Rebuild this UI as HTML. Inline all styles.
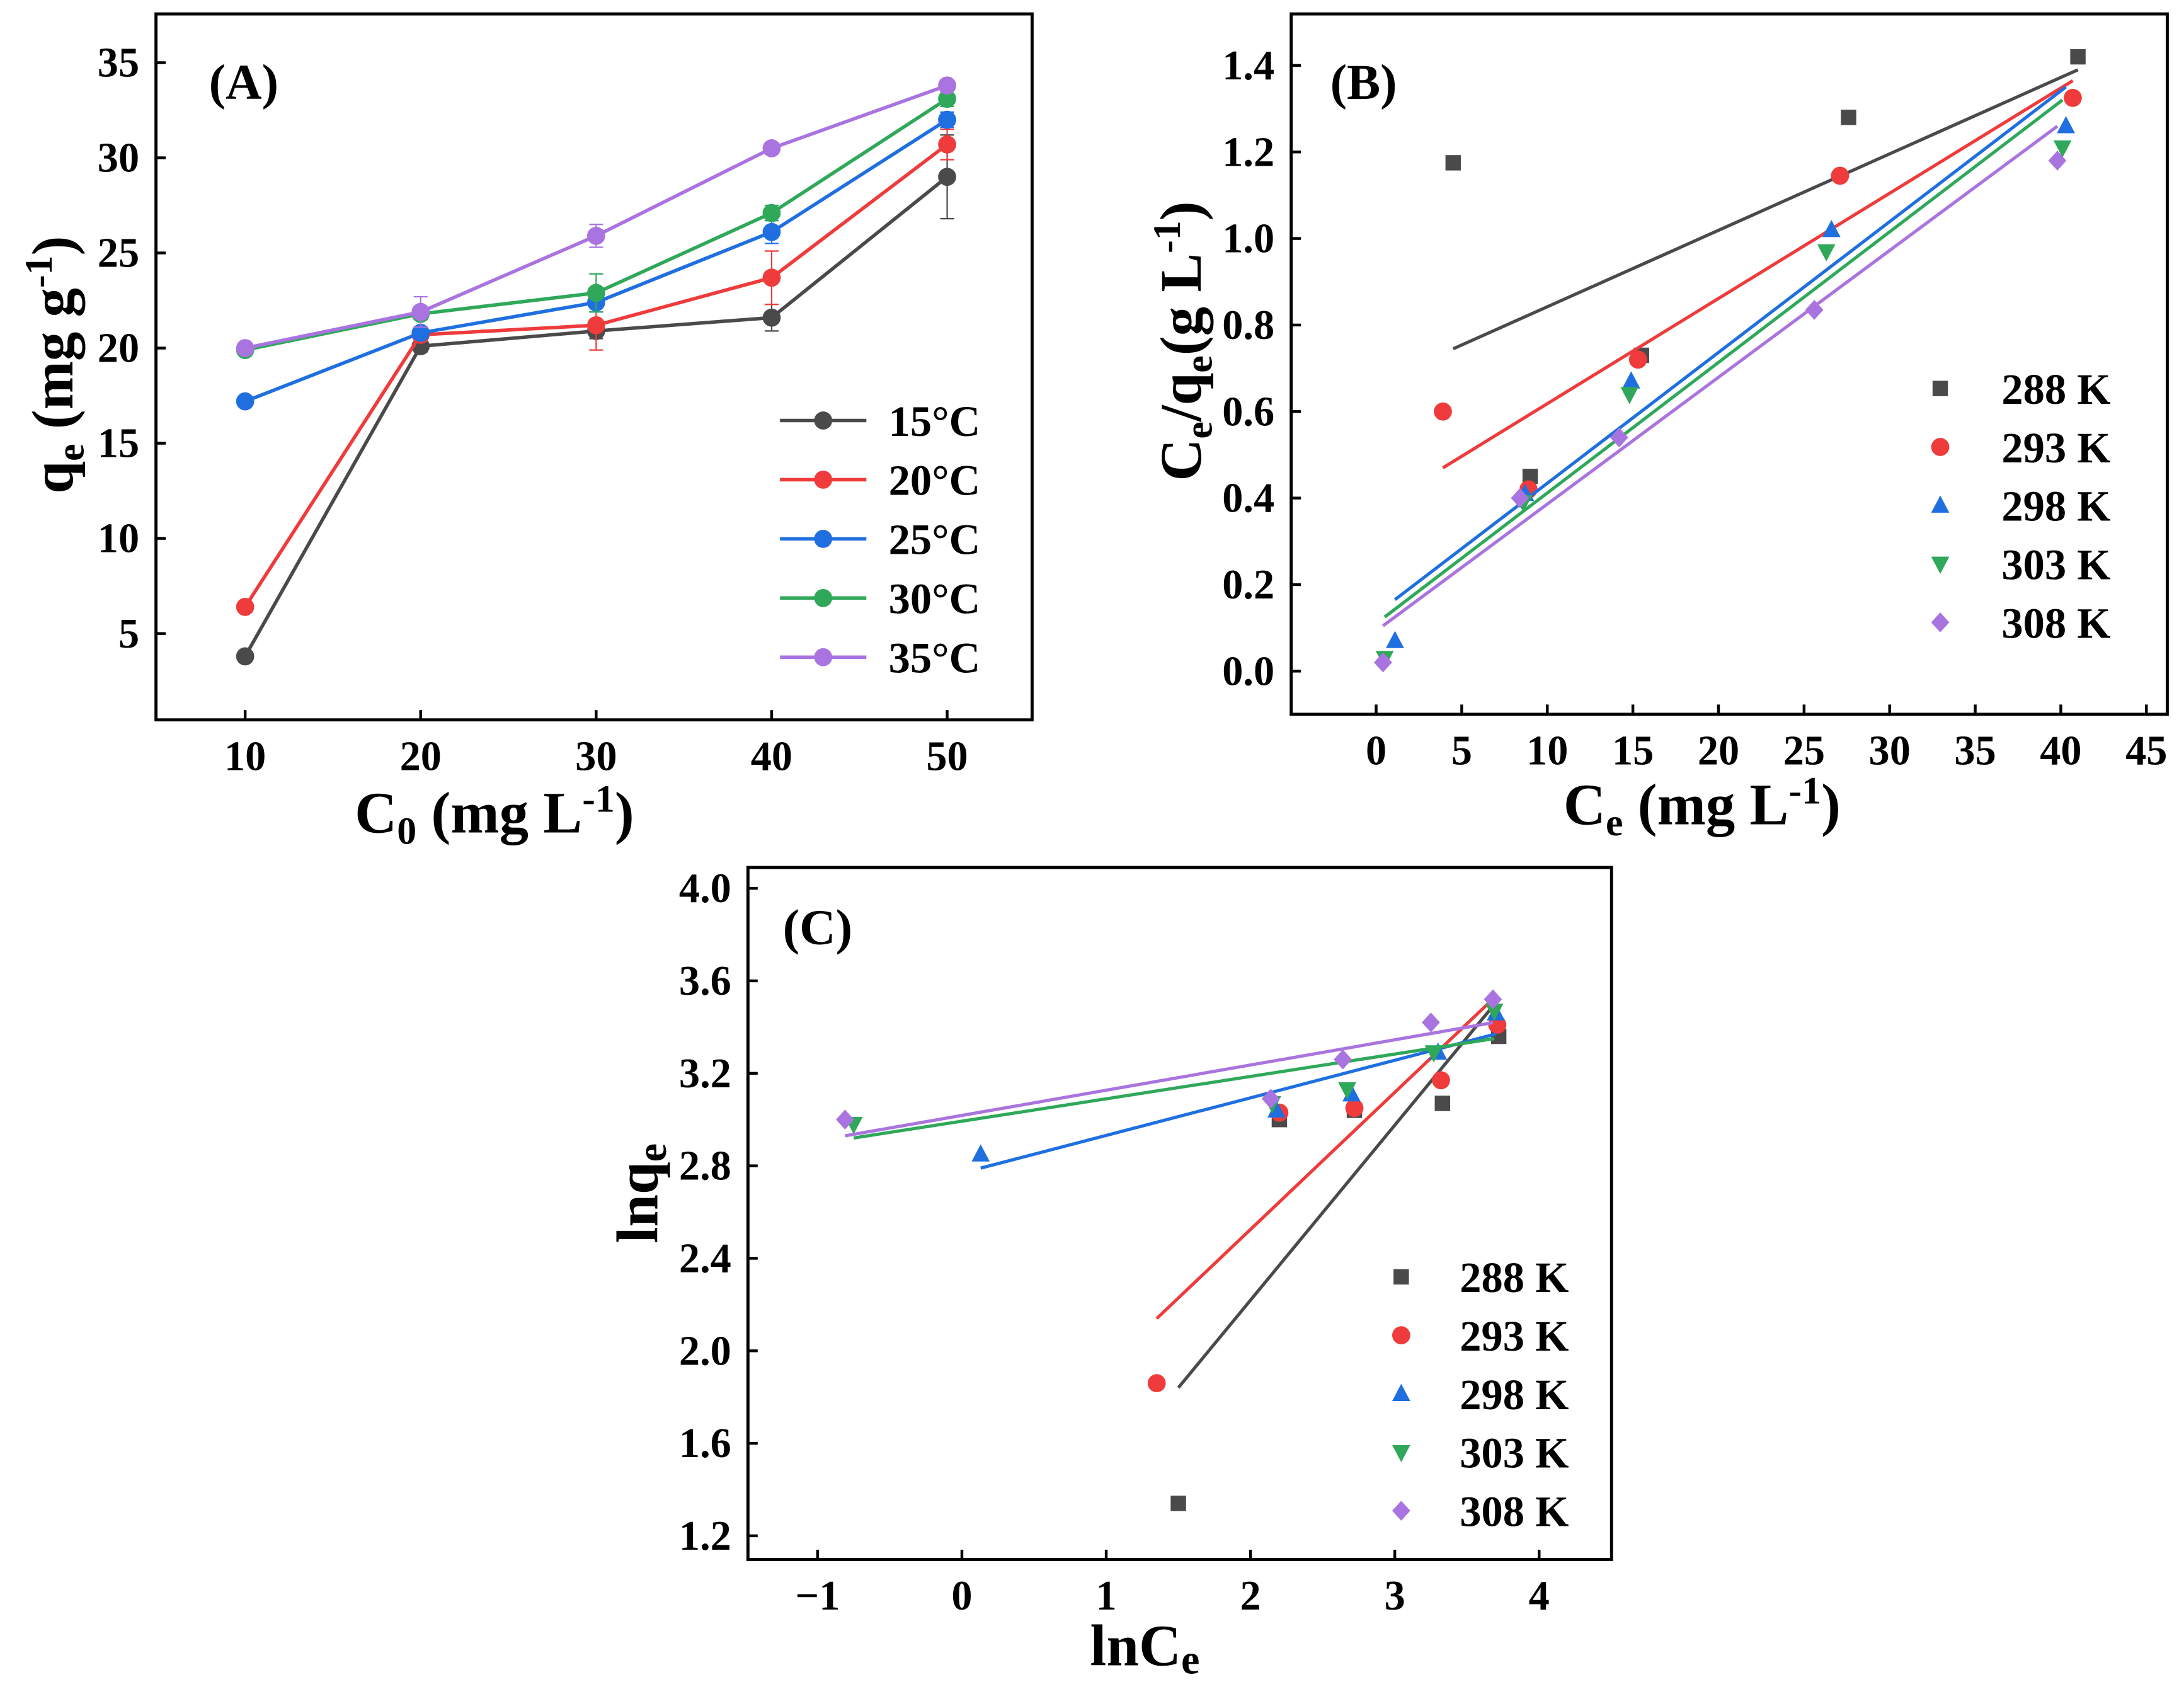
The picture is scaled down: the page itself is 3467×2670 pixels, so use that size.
<!DOCTYPE html>
<html><head><meta charset="utf-8"><style>html,body{margin:0;padding:0;background:#fff}svg{display:block}text{font-family:"Liberation Serif",serif;font-weight:bold;fill:#000}</style></head>
<body>
<svg id="fig" width="3467" height="2670" viewBox="0 0 1568 1208" preserveAspectRatio="none" xmlns="http://www.w3.org/2000/svg"></svg>
<script>
// ---------- Panel A data ----------
const aCats=[10,20,30,40,50];
const aSeriesNames=["15°C","20°C","25°C","30°C","35°C"];
const a15=[3.8,20.1,20.9,21.6,29.0];
const a20=[6.4,20.7,21.2,23.7,30.7];
const a25=[17.2,20.8,22.4,26.1,32.0];
const a30=[19.9,21.8,22.9,27.1,33.1];
const a35=[20.0,21.9,25.9,30.5,33.8];
const a15err=[0.2,0.3,0.4,0.7,2.2];
const a20err=[0.2,0.3,1.3,1.4,0.8];
const a25err=[0.2,0.3,0.5,0.6,0.4];
const a30err=[0.2,0.3,1.0,0.4,0.4];
const a35err=[0.2,0.8,0.6,0.3,0.3];
const aXTicks=[10,20,30,40,50];
const aYTicks=[5,10,15,20,25,30,35];
// ---------- Panel B data ----------
const bNames=["288 K","293 K","298 K","303 K","308 K"];
const b288x=[4.5,9,15.5,27.6,41],   b288y=[1.175,0.45,0.73,1.28,1.42];
const b293x=[3.9,8.9,15.3,27.1,40.7],b293y=[0.6,0.42,0.72,1.145,1.325];
const b298x=[1.1,8.7,14.9,26.6,40.3],b298y=[0.07,0.41,0.67,1.02,1.26];
const b303x=[0.5,8.6,14.8,26.3,40.1],b303y=[0.03,0.39,0.64,0.97,1.21];
const b308x=[0.4,8.4,14.2,25.6,39.8],b308y=[0.02,0.40,0.54,0.835,1.18];
const bSlopes=[0.01767,0.02432,0.03023,0.03018,0.02931];
const bIntercepts=[0.6655,0.375,0.132,0.110,0.093];
const bXTicks=[0,5,10,15,20,25,30,35,40,45];
const bYTicks=[0.0,0.2,0.4,0.6,0.8,1.0,1.2,1.4];
// ---------- Panel C data ----------
const c288x=[1.5,2.2,2.72,3.33,3.72],  c288y=[1.34,3.0,3.04,3.07,3.36];
const c293x=[1.35,2.2,2.72,3.32,3.71], c293y=[1.86,3.03,3.05,3.17,3.41];
const c298x=[0.13,2.18,2.7,3.3,3.7],   c298y=[2.85,3.04,3.11,3.29,3.46];
const c303x=[-0.75,2.15,2.67,3.27,3.69],c303y=[2.98,3.07,3.13,3.29,3.47];
const c308x=[-0.81,2.14,2.64,3.25,3.68],c308y=[3.0,3.09,3.26,3.42,3.52];
const cSlopes=[0.757,0.593,0.1625,0.0968,0.109];
const cIntercepts=[0.705,1.339,2.769,2.993,3.018];
const cXTicks=[-1,0,1,2,3,4];
const cYTicks=[1.2,1.6,2.0,2.4,2.8,3.2,3.6,4.0];

const COLORS=["#4a4a4a","#ef3b3b","#1f6fe0","#2fa85a","#a974e0"];
const NS="http://www.w3.org/2000/svg";
const svg=document.getElementById('fig');
function el(tag,attrs,parent,txt){const e=document.createElementNS(NS,tag);for(const k in attrs)e.setAttribute(k,attrs[k]);if(txt!==undefined)e.textContent=txt;(parent||svg).appendChild(e);return e;}
function lin(d0,d1,p0,p1){return v=>p0+(v-d0)*(p1-p0)/(d1-d0);}

function frame(g,x0,y0,x1,y1,xs,ys,xt,yt,fmtY,fmtX){
  const r=el('rect',{x:x0,y:y0,width:x1-x0,height:y1-y0,fill:'none',stroke:'#000','stroke-width':2.2},g);
  
  xt.forEach(v=>{const x=xs(v);el('line',{x1:x,x2:x,y1:y1,y2:y1-7,stroke:'#000','stroke-width':2},g);
    const t=el('text',{x:x,y:y1+36,'text-anchor':'middle','font-size':30},g,fmtX?fmtX(v):v);
    });
  yt.forEach(v=>{const y=ys(v);el('line',{x1:x0,x2:x0+7,y1:y,y2:y,stroke:'#000','stroke-width':2},g);
    const t=el('text',{x:x0-12,y:y+10,'text-anchor':'end','font-size':30},g,fmtY?fmtY(v):v);
    });
}
function marker(g,type,x,y,c,s){
  s=s||6.5;
  if(type==='circle')return el('circle',{cx:x,cy:y,r:s,fill:c},g);
  if(type==='square')return el('rect',{x:x-s*0.85,y:y-s*0.85,width:s*1.7,height:s*1.7,fill:c},g);
  if(type==='up')return el('polygon',{points:`${x},${y-s*1.1} ${x-s},${y+s*0.8} ${x+s},${y+s*0.8}`,fill:c},g);
  if(type==='down')return el('polygon',{points:`${x},${y+s*1.1} ${x-s},${y-s*0.8} ${x+s},${y-s*0.8}`,fill:c},g);
  if(type==='diamond')return el('polygon',{points:`${x},${y-s*1.1} ${x+s},${y} ${x},${y+s*1.1} ${x-s},${y}`,fill:c},g);
}
const SHAPES=['square','circle','up','down','diamond'];

// ===== Panel A =====
(function(){
  const g=el('g',{});
  const xs=lin(10,50,176,680), ys=lin(5,35,455,45);
  frame(g,112,10,741,517,xs,ys,aXTicks,aYTicks);
  const series=[a15,a20,a25,a30,a35], errs=[a15err,a20err,a25err,a30err,a35err];
  series.forEach((s,i)=>{
    const sg=el('g',{},g);
    const pl=el('polyline',{points:s.map((v,j)=>xs(aCats[j])+','+ys(v)).join(' '),fill:'none',stroke:COLORS[i],'stroke-width':2.5},sg);
    
    s.forEach((v,j)=>{const x=xs(aCats[j]);const e=errs[i][j];
      el('line',{x1:x,x2:x,y1:ys(v-e),y2:ys(v+e),stroke:COLORS[i],'stroke-width':1},sg);
      el('line',{x1:x-5,x2:x+5,y1:ys(v-e),y2:ys(v-e),stroke:COLORS[i],'stroke-width':1},sg);
      el('line',{x1:x-5,x2:x+5,y1:ys(v+e),y2:ys(v+e),stroke:COLORS[i],'stroke-width':1},sg);
      const m=marker(sg,'circle',x,ys(v),COLORS[i],6.5);
      });
  });
  aSeriesNames.forEach((n,i)=>{const y=302+i*42.5;
    const lg=el('g',{},g);
    el('line',{x1:560,x2:622,y1:y,y2:y,stroke:COLORS[i],'stroke-width':2.5},lg);
    marker(lg,'circle',591,y,COLORS[i],6.5);
    el('text',{x:638,y:y+11,'font-size':31},lg,n);});
  const t=el('text',{x:150,y:71,'font-size':36},g,'(A)');
  const xl=el('text',{x:355,y:598,'text-anchor':'middle','font-size':42},g);
  xl.innerHTML='C<tspan font-size="28" dy="8">0</tspan><tspan dy="-8"> (mg L</tspan><tspan font-size="28" dy="-15">-1</tspan><tspan dy="15">)</tspan>';
  const yl=el('text',{transform:'translate(52,262) rotate(-90)','text-anchor':'middle','font-size':42},g);
  yl.innerHTML='q<tspan font-size="28" dy="8">e</tspan><tspan dy="-8"> (mg g</tspan><tspan font-size="28" dy="-15">-1</tspan><tspan dy="15">)</tspan>';
})();

// ===== Panel B =====
(function(){
  const g=el('g',{});
  const xs=lin(0,45,988,1541), ys=lin(0,1.4,482,47);
  frame(g,927,10,1556,513,xs,ys,bXTicks,bYTicks,v=>v.toFixed(1));
  const X=[b288x,b293x,b298x,b303x,b308x],Y=[b288y,b293y,b298y,b303y,b308y];
  X.forEach((xa,i)=>{
    const sg=el('g',{},g);
    const xmin=Math.min(...xa),xmax=Math.max(...xa);
    const fl=el('line',{x1:xs(xmin),y1:ys(bSlopes[i]*xmin+bIntercepts[i]),x2:xs(xmax),y2:ys(bSlopes[i]*xmax+bIntercepts[i]),stroke:COLORS[i],'stroke-width':2.3},sg);
    
    xa.forEach((v,j)=>{const m=marker(sg,SHAPES[i],xs(v),ys(Y[i][j]),COLORS[i],6.5);
      });
  });
  bNames.forEach((n,i)=>{const y=279+i*42;
    const lg=el('g',{},g);
    marker(lg,SHAPES[i],1393,y,COLORS[i],6.5);
    el('text',{x:1437,y:y+11,'font-size':31},lg,n);});
  const t=el('text',{x:955,y:71,'font-size':36},g,'(B)');
  const xl=el('text',{x:1222,y:592,'text-anchor':'middle','font-size':42},g);
  xl.innerHTML='C<tspan font-size="28" dy="8">e</tspan><tspan dy="-8"> (mg L</tspan><tspan font-size="28" dy="-15">-1</tspan><tspan dy="15">)</tspan>';
  const yl=el('text',{transform:'translate(862,245) rotate(-90)','text-anchor':'middle','font-size':42},g);
  yl.innerHTML='C<tspan font-size="28" dy="8">e</tspan><tspan dy="-8">/q</tspan><tspan font-size="28" dy="8">e</tspan><tspan dy="-8">(g L</tspan><tspan font-size="28" dy="-15">-1</tspan><tspan dy="15">)</tspan>';
})();

// ===== Panel C =====
(function(){
  const g=el('g',{});
  const xs=lin(-1,4,587,1105), ys=lin(1.2,4.0,1103,638);
  frame(g,537,623,1157,1120,xs,ys,cXTicks,cYTicks,v=>v.toFixed(1),v=>v<0?'\u2212'+(-v):v);
  const X=[c288x,c293x,c298x,c303x,c308x],Y=[c288y,c293y,c298y,c303y,c308y];
  X.forEach((xa,i)=>{
    const sg=el('g',{},g);
    const xmin=Math.min(...xa),xmax=Math.max(...xa);
    const fl=el('line',{x1:xs(xmin),y1:ys(cSlopes[i]*xmin+cIntercepts[i]),x2:xs(xmax),y2:ys(cSlopes[i]*xmax+cIntercepts[i]),stroke:COLORS[i],'stroke-width':2.3},sg);
    
    xa.forEach((v,j)=>{const m=marker(sg,SHAPES[i],xs(v),ys(Y[i][j]),COLORS[i],6.5);
      });
  });
  bNames.forEach((n,i)=>{const y=917+i*42;
    const lg=el('g',{},g);
    marker(lg,SHAPES[i],1006,y,COLORS[i],6.5);
    el('text',{x:1048,y:y+11,'font-size':31},lg,n);});
  const t=el('text',{x:562,y:678,'font-size':36},g,'(C)');
  const xl=el('text',{x:822,y:1196,'text-anchor':'middle','font-size':42},g);
  xl.innerHTML='lnC<tspan font-size="30" dy="6">e</tspan>';
  const yl=el('text',{transform:'translate(472,857) rotate(-90)','text-anchor':'middle','font-size':42},g);
  yl.innerHTML='lnq<tspan font-size="30" dy="6">e</tspan>';
})();
</script>
</body></html>
